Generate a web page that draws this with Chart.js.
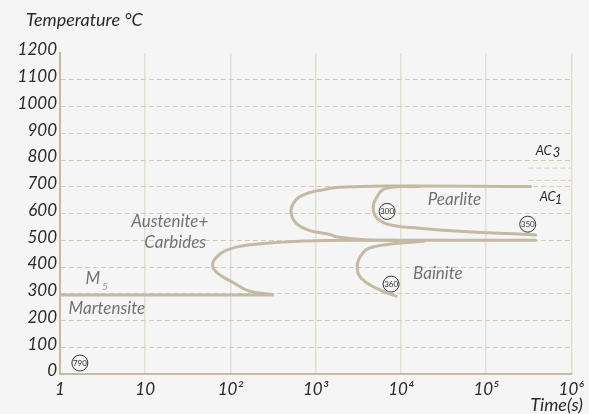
<!DOCTYPE html>
<html>
<head>
<meta charset="utf-8">
<script src="https://cdn.jsdelivr.net/npm/chart.js@4"></script>
<style>
  body { margin: 0; background: #f5f5f5; }
  canvas { display: block; }
</style>
</head>
<body>
<canvas id="ttt" width="589" height="414"></canvas>
<script>
// time axis ticks (log) and labels
const xTicks = [1, 10, 100, 1e3, 1e4, 1e5, 1e6];
const xTickLabels = ['1', '10', '10²', '10³', '10⁴', '10⁵', '10⁶'];

// Ms line
const msTime = [1, 311];
const msTemp = [295, 295];

// pearlite start (upper C)
const upperTime = [334000, 6710, 1890, 1262, 698, 533, 519, 594, 843, 1445, 1890, 4250, 9000];
const upperTemp = [701, 703, 698, 690, 668, 631, 597, 563, 537, 522, 511, 501, 500];

// bainite start (lower C), ending on Ms
const lowerTime = [382000, 10000, 1400, 407, 154, 90, 68.7, 61.7, 70.6, 106, 167, 311];
const lowerTemp = [500, 500, 499, 493, 481, 463, 437, 407, 377, 343, 310, 297];

// pearlite finish
const pearlFinTime = [16300, 6710, 5130, 4730, 5270, 7890, 16300, 48000, 382000];
const pearlFinTemp = [701, 694, 657, 619, 582, 556, 545, 534, 520];

// bainite finish
const bainFinTime = [18700, 4600, 3420, 3070, 3420, 5130, 8790];
const bainFinTemp = [497, 474, 444, 399, 358, 321, 291];

// AC3 / AC1 marks
const acTime = [314000, 1e6];
const ac3Temp = [770, 770];
const ac1Temp = [724, 724];

// circled hardness values
const markTime = [1.71, 6890, 308000, 7680];
const markTemp = [41, 608, 560, 336];
const markText = ['790', '300', '350', '360'];

// region labels
const noteText = ['Austenite+', 'Carbides', 'Martensite', 'Pearlite', 'Bainite'];
const noteTime = [19.4, 22.5, 3.55, 42500, 27200];
const noteTemp = [571, 493, 246, 653, 377];

const curveColor = '#c4baa4';
const axisColor = '#c4baa4';
const fontFam = 'Lato, "Open Sans", sans-serif';

const pts = (xs, ys) => xs.map((x, i) => ({ x: x, y: ys[i] }));

function curve(xs, ys) {
  return {
    data: pts(xs, ys),
    showLine: true,
    borderColor: curveColor,
    borderWidth: 3,
    pointRadius: 0,
    tension: 0.45,
    borderCapStyle: 'round',
    borderJoinStyle: 'round'
  };
}

function acLine(ys) {
  return {
    data: pts(acTime, ys),
    showLine: true,
    borderColor: '#d3cbb8',
    borderWidth: 1,
    borderDash: [5, 3],
    pointRadius: 0
  };
}

const textPlugin = {
  id: 'texts',
  afterDatasetsDraw(chart) {
    const ctx = chart.ctx;
    const xs = chart.scales.x, ys = chart.scales.y;
    ctx.save();
    ctx.textBaseline = 'middle';

    // axis titles
    ctx.fillStyle = '#2a2a2a';
    ctx.font = 'italic 18px ' + fontFam;
    ctx.textAlign = 'left';
    ctx.fillText('Temperature °C', 26, 20);
    ctx.textAlign = 'right';
    ctx.fillText('Time(s)', 583, 405);

    // region labels
    ctx.fillStyle = '#727272';
    ctx.textAlign = 'center';
    ctx.font = 'italic 17px ' + fontFam;
    noteText.forEach((t, i) => {
      ctx.fillText(t, xs.getPixelForValue(noteTime[i]), ys.getPixelForValue(noteTemp[i]));
    });

    // Ms label
    const mx = xs.getPixelForValue(2.43), my = ys.getPixelForValue(358);
    ctx.fillText('M', mx, my);
    ctx.font = 'italic 10px ' + fontFam;
    ctx.fillStyle = '#9a9a9a';
    ctx.fillText('5', mx + 12, my + 9);

    // AC labels
    ctx.fillStyle = '#2a2a2a';
    ctx.textAlign = 'left';
    ctx.font = 'italic 13px ' + fontFam;
    const acx = xs.getPixelForValue(382000);
    const acw = ctx.measureText('AC').width;
    ctx.fillText('AC', acx, ys.getPixelForValue(836));
    ctx.fillText('AC', acx + 4, ys.getPixelForValue(661));
    ctx.fillText('3', acx + acw + 1, ys.getPixelForValue(828));
    ctx.fillText('1', acx + 4 + acw - 1, ys.getPixelForValue(652));

    // numbers inside circles
    ctx.fillStyle = '#333';
    ctx.textAlign = 'center';
    ctx.font = '8px ' + fontFam;
    markText.forEach((t, i) => {
      ctx.fillText(t, xs.getPixelForValue(markTime[i]), ys.getPixelForValue(markTemp[i]) + 0.5);
    });
    ctx.restore();
  }
};

new Chart('ttt', {
  type: 'scatter',
  data: {
    datasets: [
      acLine(ac3Temp),
      acLine(ac1Temp),
      curve(msTime, msTemp),
      curve(upperTime, upperTemp),
      curve(lowerTime, lowerTemp),
      curve(pearlFinTime, pearlFinTemp),
      curve(bainFinTime, bainFinTemp),
      {
        data: pts(markTime, markTemp),
        pointRadius: 8,
        pointBorderWidth: 1,
        pointBorderColor: '#333',
        pointBackgroundColor: 'rgba(0,0,0,0)'
      }
    ]
  },
  options: {
    responsive: false,
    animation: false,
    layout: { padding: { top: 53, right: 16, left: 0, bottom: 0 } },
    scales: {
      x: {
        type: 'logarithmic',
        min: 1,
        max: 1e6,
        afterBuildTicks: s => { s.ticks = xTicks.map(v => ({ value: v })); },
        afterFit: s => { s.height = 40; },
        grid: {
          color: c => c.index === 0 ? 'rgba(0,0,0,0)' : '#e3dfd4',
          lineWidth: 1.5,
          drawTicks: false
        },
        border: { color: axisColor, width: 2 },
        ticks: {
          callback: (v, i) => xTickLabels[i],
          autoSkip: false,
          maxRotation: 0,
          padding: 5,
          color: '#2a2a2a',
          font: { family: fontFam, size: 17, style: 'italic' }
        }
      },
      y: {
        min: 0,
        max: 1200,
        afterFit: s => { s.width = 60; },
        grid: {
          color: c => (c.tick.value === 0 || c.tick.value === 1200) ? 'rgba(0,0,0,0)' : '#d3cbb8',
          lineWidth: 1,
          drawTicks: false
        },
        border: { color: axisColor, width: 2, dash: [5, 3] },
        ticks: {
          stepSize: 100,
          padding: 3,
          labelOffset: -3,
          callback: v => String(v),
          color: '#2a2a2a',
          font: { family: fontFam, size: 17, style: 'italic' }
        }
      }
    },
    plugins: {
      legend: { display: false },
      tooltip: { enabled: false }
    }
  },
  plugins: [textPlugin]
});
</script>
</body>
</html>
